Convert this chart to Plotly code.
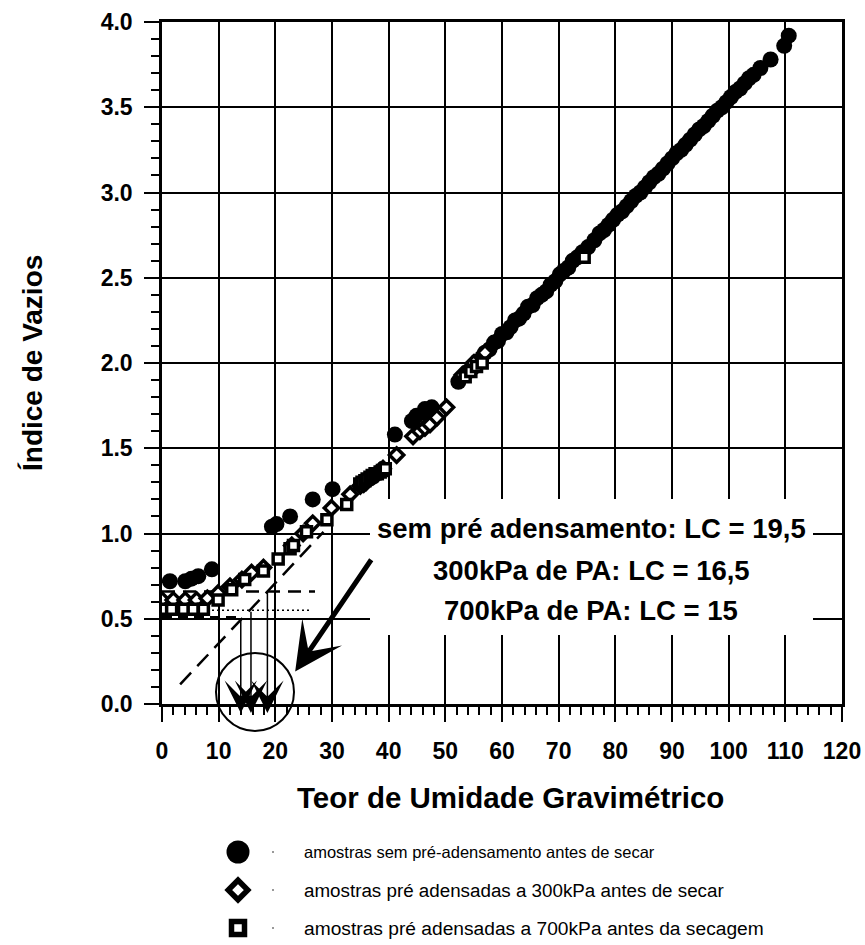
import plotly.graph_objects as go

# ---------------- data ----------------
# samples without pre-consolidation (filled circles)
w_circ = [1.4, 4.1, 5.2, 6.4, 8.8, 19.4, 20.2, 22.6, 26.6, 30.1, 41.1, 44.1, 44.9, 46.4, 47.6, 46.9,
          52.3, 54.0, 54.8, 55.6, 56.3, 57.0, 57.8, 58.6, 59.3, 60.0, 60.8, 61.5, 62.3, 63.0, 63.8,
          64.6, 65.4, 66.2, 67.0, 67.8, 68.6, 69.4, 70.2, 70.9, 71.7, 72.5, 73.3, 74.2, 75.2, 76.3,
          77.2, 78.0, 78.8, 79.6, 80.4, 81.2, 82.0, 82.8, 83.6, 84.4, 85.2, 86.0, 86.8, 87.6, 88.4,
          89.2, 90.0, 90.8, 91.6, 92.4, 93.2, 94.0, 94.8, 95.6, 96.4, 97.2, 98.0, 98.8, 99.6, 100.4,
          101.2, 102.0, 102.8, 103.6, 104.4, 105.6, 107.4, 109.8, 110.6]
e_circ = [0.72, 0.72, 0.735, 0.75, 0.79, 1.04, 1.055, 1.10, 1.20, 1.26, 1.58, 1.66, 1.69, 1.73, 1.74, 1.70,
          1.89, 1.95, 1.97, 2.01, 2.02, 2.06, 2.08, 2.12, 2.13, 2.17, 2.18, 2.21, 2.25, 2.26, 2.29,
          2.33, 2.34, 2.38, 2.40, 2.42, 2.46, 2.48, 2.52, 2.54, 2.56, 2.60, 2.62, 2.65, 2.68, 2.72,
          2.76, 2.78, 2.81, 2.84, 2.87, 2.89, 2.92, 2.95, 2.98, 3.00, 3.03, 3.06, 3.09, 3.11, 3.14,
          3.17, 3.20, 3.23, 3.25, 3.28, 3.31, 3.34, 3.37, 3.39, 3.42, 3.45, 3.48, 3.50, 3.53, 3.56,
          3.59, 3.61, 3.64, 3.67, 3.69, 3.73, 3.78, 3.86, 3.92]

# samples pre-consolidated at 300 kPa (open diamonds)
w_diam = [0.0, 2.0, 4.1, 6.1, 8.0, 9.9, 12.0, 14.1, 15.8, 17.9, 22.9, 24.9, 26.6, 29.9, 33.2,
          35.0, 35.6, 36.0, 36.5, 37.0, 37.5, 38.0, 38.5, 39.0, 41.4, 44.3, 45.5, 46.4, 47.3, 48.5,
          50.2, 53.0, 55.0, 57.0]
e_diam = [0.61, 0.61, 0.61, 0.61, 0.62, 0.65, 0.69, 0.73, 0.77, 0.80, 0.93, 1.00, 1.06, 1.15, 1.23,
          1.28, 1.29, 1.30, 1.32, 1.33, 1.34, 1.35, 1.37, 1.38, 1.46, 1.57, 1.60, 1.62, 1.64, 1.68,
          1.74, 1.93, 2.00, 2.06]

# samples pre-consolidated at 700 kPa (open squares)
w_sq = [0.0, 1.7, 3.8, 5.5, 7.3, 9.9, 12.3, 14.6, 17.9, 20.5, 22.6, 23.2, 25.5, 29.1, 32.6, 34.9,
        35.3, 35.8, 36.2, 36.7, 37.1, 37.6, 38.0, 38.5, 38.9, 39.4, 53.5, 54.5, 55.5, 56.5, 74.5]
e_sq = [0.555, 0.555, 0.555, 0.555, 0.555, 0.61, 0.67, 0.73, 0.78, 0.85, 0.91, 0.93, 1.01, 1.08, 1.17, 1.29,
        1.30, 1.31, 1.32, 1.33, 1.34, 1.35, 1.35, 1.36, 1.37, 1.38, 1.92, 1.95, 1.98, 2.00, 2.62]

# construction lines for the shrinkage limit (LC)
diag_w = [3.2, 28.5]
diag_e = [0.115, 1.01]
h_dash_w = [0.0, 27.0]
h_dash_e = [0.66, 0.66]
h_dot_w = [0.0, 26.0]
h_dot_e = [0.55, 0.55]
h_low_w = [0.0, 14.0]
h_low_e = [0.51, 0.51]

# vertical arrows to the x axis (LC readings)
lc_w = [13.9, 15.7, 18.6]
lc_e_start = [0.50, 0.55, 0.66]

# main arrow pointing to the LC circle
arrow_tail = (37.1, 0.855)
arrow_head = (23.5, 0.19)

x_ticks = [0, 10, 20, 30, 40, 50, 60, 70, 80, 90, 100, 110, 120]
y_ticks = [0.0, 0.5, 1.0, 1.5, 2.0, 2.5, 3.0, 3.5, 4.0]

lc_texts = ["sem pré adensamento: LC = 19,5", "300kPa de PA: LC = 16,5", "700kPa de PA: LC = 15"]
legend_labels = ["amostras sem pré-adensamento antes de secar",
                 "amostras pré adensadas a 300kPa antes de secar",
                 "amostras pré adensadas a 700kPa antes da secagem"]

x_title = "Teor de Umidade Gravimétrico"
y_title = "Índice de Vazios"

# ---------------- layout geometry (window pixels) ----------------
W, H = 865, 945
PL, PR, PT, PB = 162, 842, 22, 704   # plot area edges in window pixels


def px(xp):
    return xp / W


def py(yp):
    return (H - yp) / H


FONT = "Liberation Sans, Arial, sans-serif"

fig = go.Figure()

# construction lines
fig.add_trace(go.Scatter(x=diag_w, y=diag_e, mode="lines",
                         line=dict(color="black", width=2.5, dash="16px,9px"), hoverinfo="skip"))
fig.add_trace(go.Scatter(x=h_dash_w, y=h_dash_e, mode="lines",
                         line=dict(color="black", width=2.5, dash="13px,8px"), hoverinfo="skip"))
fig.add_trace(go.Scatter(x=h_dot_w, y=h_dot_e, mode="lines",
                         line=dict(color="black", width=1.5, dash="2px,3px"), hoverinfo="skip"))
fig.add_trace(go.Scatter(x=h_low_w, y=h_low_e, mode="lines",
                         line=dict(color="black", width=2, dash="10px,6px"), hoverinfo="skip"))

# data
fig.add_trace(go.Scatter(x=w_circ, y=e_circ, mode="markers",
                         marker=dict(symbol="circle", size=16, color="black")))
fig.add_trace(go.Scatter(x=w_diam, y=e_diam, mode="markers",
                         marker=dict(symbol="diamond", size=11, color="white",
                                     line=dict(color="black", width=3.5))))
fig.add_trace(go.Scatter(x=w_sq, y=e_sq, mode="markers",
                         marker=dict(symbol="square", size=10, color="white",
                                     line=dict(color="black", width=3.5))))

# manual legend on a helper axis whose values are window pixel positions
leg_y = [852, 890, 928]
leg_x_sym = [238, 238, 238]
leg_x_dot = [273, 273, 273]
leg_font = [16.5, 18.8, 19.2]
fig.add_trace(go.Scatter(x=[leg_x_sym[0]], y=[leg_y[0]], xaxis="x2", yaxis="y2", mode="markers",
                         marker=dict(symbol="circle", size=23, color="black"), hoverinfo="skip"))
fig.add_trace(go.Scatter(x=[leg_x_sym[1]], y=[leg_y[1]], xaxis="x2", yaxis="y2", mode="markers",
                         marker=dict(symbol="diamond", size=15, color="white",
                                     line=dict(color="black", width=5.5)), hoverinfo="skip"))
fig.add_trace(go.Scatter(x=[leg_x_sym[2]], y=[leg_y[2]], xaxis="x2", yaxis="y2", mode="markers",
                         marker=dict(symbol="square", size=13, color="white",
                                     line=dict(color="black", width=5.5)), hoverinfo="skip"))
fig.add_trace(go.Scatter(x=leg_x_dot, y=leg_y, xaxis="x2", yaxis="y2", mode="markers",
                         marker=dict(symbol="circle", size=1.5, color="black"), hoverinfo="skip"))

annotations = []
for lab, yy, fs in zip(legend_labels, leg_y, leg_font):
    annotations.append(dict(x=302, y=yy, xref="x2", yref="y2", text=lab, showarrow=False,
                            xanchor="left", yanchor="middle",
                            font=dict(family=FONT, size=fs, color="black")))

# LC text block
for txt, yp in zip(lc_texts, [528, 570, 610]):
    annotations.append(dict(x=px(591), y=py(yp), xref="paper", yref="paper", text=txt,
                            showarrow=False, xanchor="center", yanchor="middle",
                            font=dict(family=FONT, size=27.5, color="black", weight="bold")))

# axis titles
annotations.append(dict(x=px(510), y=py(797), xref="paper", yref="paper", text=x_title,
                        showarrow=False, xanchor="center", yanchor="middle",
                        font=dict(family=FONT, size=29.5, color="black", weight="bold")))
annotations.append(dict(x=px(33), y=py(363), xref="paper", yref="paper", text=y_title,
                        showarrow=False, xanchor="center", yanchor="middle", textangle=-90,
                        font=dict(family=FONT, size=28, color="black", weight="bold")))

# vertical LC arrows (tip just below the x axis)
tip_py = 713
e_scale = (PB - PT) / 4.0
for wv, es in zip(lc_w, lc_e_start):
    tail_py = PB - es * e_scale
    annotations.append(dict(x=wv, y=py(tip_py), xref="x", yref="paper", ax=0, ay=tail_py - tip_py,
                            axref="pixel", ayref="pixel", showarrow=True, arrowhead=3,
                            arrowsize=3.6, arrowwidth=1.5, arrowcolor="black", text=""))

# main arrow
annotations.append(dict(x=arrow_head[0], y=arrow_head[1], xref="x", yref="y",
                        ax=arrow_tail[0], ay=arrow_tail[1], axref="x", ayref="y",
                        showarrow=True, arrowhead=3, arrowsize=1.6, arrowwidth=5,
                        arrowcolor="black", text=""))

shapes = [
    # white box behind the LC text (hides the grid)
    dict(type="rect", xref="paper", yref="paper", x0=px(370), x1=px(813), y0=py(635), y1=py(499),
         fillcolor="white", line=dict(width=0), layer="above"),
    # circle around the LC readings
    dict(type="circle", xref="paper", yref="paper", x0=px(216), x1=px(294), y0=py(731), y1=py(653),
         line=dict(color="black", width=2), layer="above"),
]

axis_common = dict(showgrid=True, gridcolor="black", gridwidth=1.5, zeroline=False,
                   showline=True, linecolor="black", linewidth=2.5, mirror=True,
                   ticks="outside", ticklen=15, tickwidth=2, tickcolor="black", automargin=False,
                   tickfont=dict(family=FONT, size=23, color="black", weight="bold"))

fig.update_layout(
    width=W, height=H,
    margin=dict(l=0, r=0, t=0, b=0, autoexpand=False),
    paper_bgcolor="white", plot_bgcolor="rgba(0,0,0,0)",
    showlegend=False,
    xaxis=dict(domain=[px(PL), px(PR)], range=[0, 120], tickvals=x_ticks,
               ticklabelstandoff=10,
               minor=dict(dtick=2, ticks="outside", ticklen=8, tickwidth=1.5, tickcolor="black",
                          showgrid=False),
               anchor="y", **axis_common),
    yaxis=dict(domain=[py(PB), py(PT)], range=[0, 4], tickvals=y_ticks, tickformat=".1f",
               ticklabelstandoff=7,
               minor=dict(dtick=0.1, ticks="outside", ticklen=8, tickwidth=1.5, tickcolor="black",
                          showgrid=False),
               anchor="x", **axis_common),
    xaxis2=dict(domain=[0, 1], range=[0, W], visible=False, anchor="y2", automargin=False),
    yaxis2=dict(domain=[0, py(756)], range=[H, 756], visible=False, anchor="x2", automargin=False),
    annotations=annotations,
    shapes=shapes,
)

fig.write_html("out.html", config={"displayModeBar": False},
               post_script="document.body.style.margin='0px';document.body.style.overflow='hidden';")
